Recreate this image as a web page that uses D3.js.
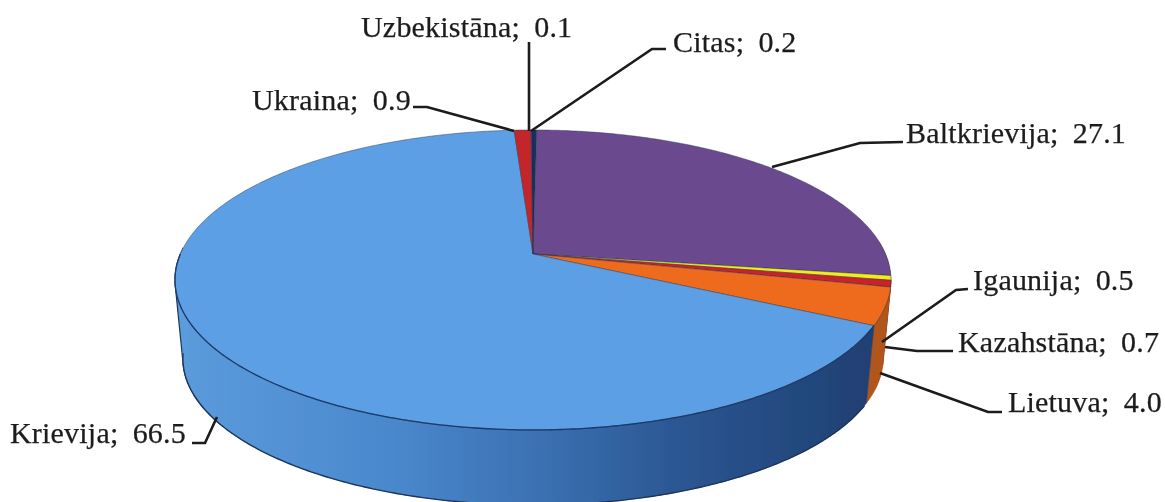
<!DOCTYPE html>
<html>
<head>
<meta charset="utf-8">
<script src="https://cdn.jsdelivr.net/npm/d3@7"></script>
<style>
    html, body { margin: 0; padding: 0; background: #fff; }
    svg { display: block; }
    text { font-family: "Liberation Serif", serif; font-size: 30px; fill: #1c1c1c; stroke: #1c1c1c; stroke-width: 0.25px; word-spacing: 6.5px; letter-spacing: 0.2px; }
</style>
</head>
<body>
<svg id="chart" width="1165" height="502"></svg>
<script>
// clockwise from 12 o'clock, same order as the picture
const countries = ["Citas", "Baltkrievija", "Igaunija", "Kazahstāna", "Lietuva", "Krievija", "Ukraina", "Uzbekistāna"];
const shares = [0.2, 27.1, 0.5, 0.7, 4.0, 66.5, 0.9, 0.1];
const shareLabels = ["0.2", "27.1", "0.5", "0.7", "4.0", "66.5", "0.9", "0.1"];

const topColors = ["#12305f", "#6b4a8e", "#f4ea1c", "#c8242b", "#ee6b1e", "#5c9fe4", "#c2282c", "#14306a"];
const sideColors = ["#12305f", "#4a3266", "#b8a810", "#8f1b20", "#b0541a", "url(#sideBlue)", "#8f1b20", "#14306a"];

// label anchor + leader line, by hand from the picture
const labelX = [673, 906, 973, 958, 1008, 10, 252, 361];
const labelY = [52, 143, 290, 352, 412, 443, 110, 37];
const leaders = [
    [[666, 49], [652, 49], [531, 131]],
    [[903, 142], [860, 143], [772, 167]],
    [[968, 289], [956, 290], [882, 342]],
    [[953, 351], [917, 351], [885, 347]],
    [[1002, 412], [988, 412], [880, 373]],
    [[192, 443], [205, 443], [217, 417]],
    [[413, 107], [427, 107], [514, 131]],
    [[529, 42], [529, 131]]
];

const svg = d3.select("#chart");

// the vertex of the pie sits above the middle of the ellipse, so project with a bit of perspective
const cx = 533, cy = 254, rx = 352.6, ry = 145.5, persp = 0.173;
const depth = 79, bottomScale = 0.978;

function project(angle, scale, dy) {
    const u = Math.sin(angle), v = -Math.cos(angle), w = 1 - persp * v;
    return [cx + scale * rx * u / w, cy + dy + scale * ry * v / w];
}

const pieData = d3.pie().value(d => d).sort(null)(shares);
const line = d3.line();
const deg = d3.scaleLinear().domain([0, 180]).range([0, Math.PI]);

function arcPoints(a0, a1, scale, dy) {
    const n = Math.max(2, Math.ceil((a1 - a0) / 0.01));
    return d3.range(n + 1).map(i => project(a0 + (a1 - a0) * i / n, scale, dy));
}

const defs = svg.append("defs");
const grad = defs.append("linearGradient")
    .attr("id", "sideBlue")
    .attr("gradientUnits", "userSpaceOnUse")
    .attr("x1", cx - rx).attr("x2", cx + rx).attr("y1", 0).attr("y2", 0);
[[0, "#5b9bdc"], [0.3, "#4a88cc"], [0.5, "#3b72b4"], [0.72, "#2a5590"], [1, "#1f3e70"]].forEach(s => {
    grad.append("stop").attr("offset", s[0]).attr("stop-color", s[1]);
});
// scan softness
defs.append("filter").attr("id", "soft")
    .append("feGaussianBlur").attr("stdDeviation", 0.5);

const root = svg.append("g").attr("filter", "url(#soft)");

// hull pieces close the gap between the two ellipses at the far left and far right
function hullPath(a0, a1) {
    return line(d3.polygonHull(arcPoints(a0, a1, 1, 0).concat(arcPoints(a0, a1, bottomScale, depth)))) + "Z";
}
root.append("path").attr("d", hullPath(deg(85), deg(112)))
    .attr("fill", sideColors[4]);
root.append("path").attr("d", hullPath(deg(235), deg(272)))
    .attr("fill", "url(#sideBlue)").attr("stroke", "#1d3558").attr("stroke-width", 1.2);

// side wall, only the front part shows
const sideMin = deg(70), sideMax = deg(272);
const sides = pieData
    .map((d, i) => ({ a0: Math.max(d.startAngle, sideMin), a1: Math.min(d.endAngle, sideMax), i }))
    .filter(d => d.a1 > d.a0 && d.i !== 1);

root.append("g").selectAll("path")
    .data(sides)
    .join("path")
    .attr("d", d => line(arcPoints(d.a0, d.a1, 1, 0).concat(arcPoints(d.a0, d.a1, bottomScale, depth).reverse())) + "Z")
    .attr("fill", d => sideColors[d.i])
    .attr("stroke", d => sideColors[d.i])
    .attr("stroke-width", 0.6);

// dark rim along the bottom edge
root.append("path")
    .attr("d", line(arcPoints(deg(118), deg(262), bottomScale, depth)))
    .attr("fill", "none").attr("stroke", "#1d3558").attr("stroke-width", 1.4);

// top face
root.append("g").selectAll("path")
    .data(pieData)
    .join("path")
    .attr("d", d => line([[cx, cy]].concat(arcPoints(d.startAngle, d.endAngle, 1, 0))) + "Z")
    .attr("fill", (d, i) => topColors[i])
    .attr("stroke", "#26304e")
    .attr("stroke-opacity", 0.55)
    .attr("stroke-width", 0.8);

// dark line where the top face meets the wall
root.append("path")
    .attr("d", line(arcPoints(deg(117), deg(270), 1, 0)))
    .attr("fill", "none").attr("stroke", "#1f3a68").attr("stroke-width", 1.3);

// leaders
root.append("g").selectAll("path")
    .data(leaders)
    .join("path")
    .attr("d", d => line(d))
    .attr("fill", "none")
    .attr("stroke", "#1a1a1a")
    .attr("stroke-width", 2.6);

// labels
root.append("g").selectAll("text")
    .data(countries)
    .join("text")
    .attr("x", (d, i) => labelX[i])
    .attr("y", (d, i) => labelY[i])
    .text((d, i) => d + "; " + shareLabels[i]);
</script>
</body>
</html>
